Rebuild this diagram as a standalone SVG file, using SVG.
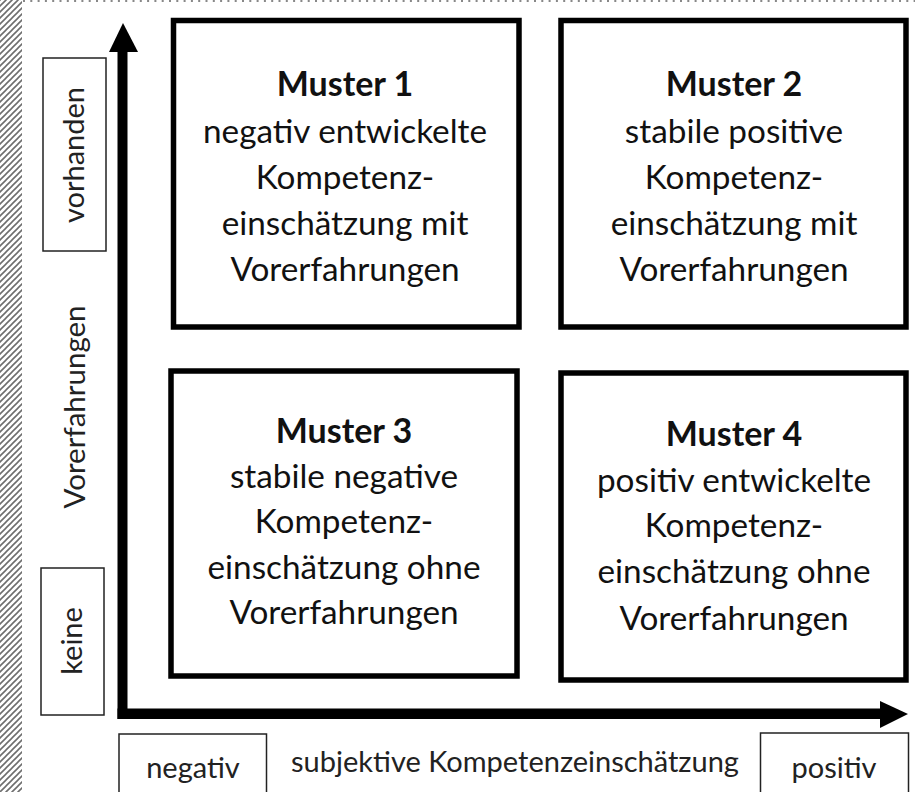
<svg xmlns="http://www.w3.org/2000/svg" width="915" height="792" viewBox="0 0 915 792">
<defs>
<pattern id="hatch" patternUnits="userSpaceOnUse" width="6" height="6">
<path d="M0,6 L6,0 M-1,1 L1,-1 M5,7 L7,5" stroke="#6e6e6e" stroke-width="1.6"/>
</pattern>
<style>
.box{fill:#fff;stroke:#000;stroke-width:5.5;stroke-linejoin:miter}
.lbl{fill:#fff;stroke:#222;stroke-width:1.5}
.t{font-family:Lato,"Open Sans",sans-serif;font-size:33.3px;fill:#111;text-anchor:middle}
.b{font-weight:bold;font-size:34px}
.s{font-family:Lato,"Open Sans",sans-serif;font-size:29px;fill:#222;text-anchor:middle}
</style>
</defs>
<rect width="915" height="792" fill="#fff"/>
<rect x="0" y="0" width="22" height="792" fill="url(#hatch)"/>
<line x1="23" y1="1" x2="915" y2="1" stroke="#888" stroke-width="2" stroke-dasharray="2 5.3"/>

<g id="axes">
<rect x="117.5" y="50" width="10" height="669"/>
<polygon points="123,23 138,52 109,52"/>
<rect x="117.5" y="708.5" width="764" height="10.5"/>
<polygon points="880,701 908,714 880,728"/>
</g>

<g id="label-vorhanden">
<rect class="lbl" x="43" y="58" width="63" height="193"/>
<text class="s" transform="translate(84,155) rotate(-90)">vorhanden</text>
</g>
<g id="label-vorerfahrungen">
<text class="s" transform="translate(85,407) rotate(-90)" style="font-size:29.5px">Vorerfahrungen</text>
</g>
<g id="label-keine">
<rect class="lbl" x="41" y="568" width="63" height="147"/>
<text class="s" transform="translate(82,641) rotate(-90)">keine</text>
</g>
<g id="label-negativ">
<rect class="lbl" x="119" y="734" width="147.5" height="70"/>
<text class="s" x="193" y="778">negativ</text>
</g>
<g id="label-kompetenz">
<text class="s" x="515" y="772">subjektive Kompetenzeinschätzung</text>
</g>
<g id="label-positiv">
<rect class="lbl" x="760.5" y="733" width="148" height="70"/>
<text class="s" x="834" y="778">positiv</text>
</g>

<g id="muster1">
<rect class="box" x="173.5" y="20.5" width="345.5" height="306.5"/>
<text class="t b" x="345" y="96">Muster 1</text>
<text class="t" x="345" y="142.5">negativ entwickelte</text>
<text class="t" x="345" y="188.5">Kompetenz-</text>
<text class="t" x="345" y="234.5">einschätzung mit</text>
<text class="t" x="345" y="281">Vorerfahrungen</text>
</g>
<g id="muster2">
<rect class="box" x="561" y="20.5" width="345" height="306.5"/>
<text class="t b" x="734" y="96">Muster 2</text>
<text class="t" x="734" y="142.5">stabile positive</text>
<text class="t" x="734" y="188.5">Kompetenz-</text>
<text class="t" x="734" y="234.5">einschätzung mit</text>
<text class="t" x="734" y="281">Vorerfahrungen</text>
</g>
<g id="muster3">
<rect class="box" x="171" y="371" width="346" height="305"/>
<text class="t b" x="344" y="443">Muster 3</text>
<text class="t" x="344" y="488">stabile negative</text>
<text class="t" x="344" y="533">Kompetenz-</text>
<text class="t" x="344" y="578.5">einschätzung ohne</text>
<text class="t" x="344" y="624">Vorerfahrungen</text>
</g>
<g id="muster4">
<rect class="box" x="561" y="373" width="345" height="307"/>
<text class="t b" x="734" y="446">Muster 4</text>
<text class="t" x="734" y="491.5">positiv entwickelte</text>
<text class="t" x="734" y="537">Kompetenz-</text>
<text class="t" x="734" y="583">einschätzung ohne</text>
<text class="t" x="734" y="629.5">Vorerfahrungen</text>
</g>
</svg>
